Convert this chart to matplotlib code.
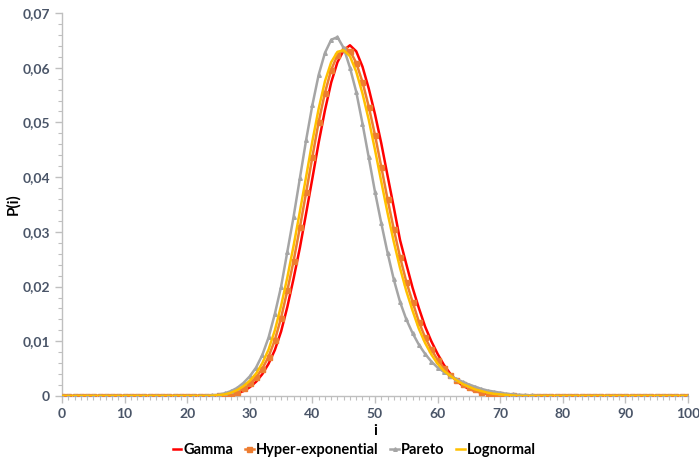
import matplotlib
matplotlib.use("Agg")
import matplotlib.pyplot as plt
from matplotlib.ticker import MultipleLocator, FuncFormatter

i_vals = list(range(0, 101))

gamma = [
    0, 0, 0, 0, 0, 0, 0, 0, 0, 0,
    0, 0, 0, 0, 0, 0, 0, 0, 0, 0,
    0, 0, 0, 0, 0, 0.00005, 0.0001, 0.00025, 0.0005, 0.0009,
    0.0016, 0.0026, 0.0040, 0.0059, 0.0084, 0.0118, 0.0163, 0.0215, 0.0271, 0.0334,
    0.0398, 0.0463, 0.0522, 0.0573, 0.0610, 0.0632, 0.0641, 0.0630, 0.0602, 0.0562,
    0.0515, 0.0462, 0.0403, 0.0345, 0.0285, 0.0241, 0.0198, 0.0161, 0.0127, 0.0100,
    0.0077, 0.0057, 0.0041, 0.0028, 0.0019, 0.0013, 0.0009, 0.0006, 0.0004, 0.0002,
    0.0001, 0, 0, 0, 0, 0, 0, 0, 0, 0,
    0, 0, 0, 0, 0, 0, 0, 0, 0, 0,
    0, 0, 0, 0, 0, 0, 0, 0, 0, 0,
    0,
]

hyper_exp = [
    0, 0, 0, 0, 0, 0, 0, 0, 0, 0,
    0, 0, 0, 0, 0, 0, 0, 0, 0, 0,
    0, 0, 0, 0, 0.00005, 0.0001, 0.0002, 0.00045, 0.0008, 0.0014,
    0.0023, 0.0034, 0.0050, 0.0072, 0.0102, 0.0143, 0.0193, 0.0247, 0.0308, 0.0372,
    0.0437, 0.0501, 0.0554, 0.0596, 0.0623, 0.0634, 0.0631, 0.0609, 0.0574, 0.0529,
    0.0477, 0.0419, 0.0360, 0.0305, 0.0254, 0.0209, 0.0172, 0.0136, 0.0107, 0.0085,
    0.0066, 0.0051, 0.0038, 0.0029, 0.0022, 0.0016, 0.0012, 0.0008, 0.0006, 0.0004,
    0.0003, 0.0002, 0.0001, 0.00005, 0, 0, 0, 0, 0, 0,
    0, 0, 0, 0, 0, 0, 0, 0, 0, 0,
    0, 0, 0, 0, 0, 0, 0, 0, 0, 0,
    0,
]

pareto = [
    0, 0, 0, 0, 0, 0, 0, 0, 0, 0,
    0, 0, 0, 0, 0, 0, 0, 0, 0, 0,
    0, 0, 0, 0.00005, 0.0001, 0.00025, 0.0005, 0.0009, 0.0015, 0.0024,
    0.0036, 0.0052, 0.0075, 0.0107, 0.0150, 0.0200, 0.0264, 0.0328, 0.0398, 0.0468,
    0.0532, 0.0587, 0.0627, 0.0651, 0.0656, 0.0636, 0.0600, 0.0556, 0.0498, 0.0436,
    0.0373, 0.0316, 0.0262, 0.0213, 0.0172, 0.0140, 0.0115, 0.0094, 0.0077, 0.0063,
    0.0052, 0.0044, 0.0037, 0.0031, 0.0026, 0.0021, 0.0017, 0.0013, 0.0010, 0.0008,
    0.0006, 0.0004, 0.0003, 0.0002, 0.00015, 0.0001, 0.00005, 0, 0, 0,
    0, 0, 0, 0, 0, 0, 0, 0, 0, 0,
    0, 0, 0, 0, 0, 0, 0, 0, 0, 0,
    0,
]

lognormal = [
    0, 0, 0, 0, 0, 0, 0, 0, 0, 0,
    0, 0, 0, 0, 0, 0, 0, 0, 0, 0,
    0, 0, 0, 0, 0.00005, 0.00015, 0.0003, 0.0006, 0.0011, 0.0018,
    0.0028, 0.0041, 0.0060, 0.0085, 0.0120, 0.0165, 0.0217, 0.0275, 0.0337, 0.0401,
    0.0466, 0.0525, 0.0575, 0.0610, 0.0629, 0.0632, 0.0621, 0.0593, 0.0553, 0.0505,
    0.0450, 0.0392, 0.0335, 0.0282, 0.0234, 0.0192, 0.0156, 0.0123, 0.0097, 0.0076,
    0.0059, 0.0046, 0.0037, 0.0029, 0.0022, 0.0017, 0.0012, 0.0009, 0.0006, 0.0004,
    0.0003, 0.0002, 0.0001, 0, 0, 0, 0, 0, 0, 0,
    0, 0, 0, 0, 0, 0, 0, 0, 0, 0,
    0, 0, 0, 0, 0, 0, 0, 0, 0, 0,
    0,
]

series_names = ["Gamma", "Hyper-exponential", "Pareto", "Lognormal"]
x_ticks = [0, 10, 20, 30, 40, 50, 60, 70, 80, 90, 100]
y_ticks = [0, 0.01, 0.02, 0.03, 0.04, 0.05, 0.06, 0.07]

plt.rcParams['font.family'] = ['Lato', 'DejaVu Sans']

fig = plt.figure(figsize=(6.99, 4.63), dpi=100)
ax = fig.add_axes([62/699, 67/463, 626/699, 383/463])

ax.plot(i_vals, gamma, color="#FF0000", lw=1.8, label=series_names[0], zorder=3)
ax.plot(i_vals, hyper_exp, color="#ED7D31", lw=1.8, marker="s", markersize=3.6,
        label=series_names[1], zorder=4)
ax.plot(i_vals, pareto, color="#A5A5A5", lw=1.8, marker="^", markersize=2.6,
        label=series_names[2], zorder=5)
ax.plot(i_vals, lognormal, color="#FFC000", lw=1.8, label=series_names[3], zorder=6)

ax.set_xlim(0, 100)
ax.set_ylim(0, 0.07)
ax.set_xticks(x_ticks)
ax.set_yticks(y_ticks)
ax.xaxis.set_minor_locator(MultipleLocator(1))
ax.yaxis.set_minor_locator(MultipleLocator(0.002))

def yfmt(v, pos):
    if abs(v) < 1e-12:
        return "0"
    return ("%.2f" % v).replace(".", ",")

ax.yaxis.set_major_formatter(FuncFormatter(yfmt))

for s in ["top", "right"]:
    ax.spines[s].set_visible(False)
for s in ["left", "bottom"]:
    ax.spines[s].set_color("#BFBFBF")
    ax.spines[s].set_linewidth(1.0)

tick_col = "#4A5568"
ax.tick_params(axis="both", which="major", colors="#BFBFBF", length=5, width=1,
               labelcolor=tick_col, labelsize=10)
ax.tick_params(axis="both", which="minor", colors="#BFBFBF", length=3, width=0.8)
for lab in ax.get_xticklabels() + ax.get_yticklabels():
    lab.set_fontweight("bold")

ax.set_xlabel("i", fontsize=11, fontweight="bold", color="black", labelpad=3)
ax.set_ylabel("P(i)", fontsize=11, fontweight="bold", color="black")
ax.yaxis.set_label_coords(-0.066, 0.5)

leg = fig.legend(loc="center", bbox_to_anchor=(0.507, 0.028), ncol=4, frameon=False,
                 handlelength=0.6, handletextpad=0.15, columnspacing=0.8,
                 prop={"weight": "bold", "size": 10.5})

fig.savefig("out.png", dpi=100)
